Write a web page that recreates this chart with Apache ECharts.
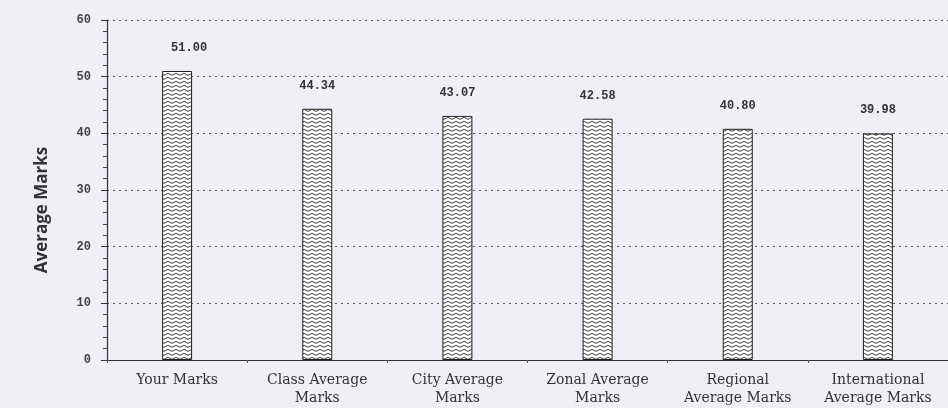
<!DOCTYPE html>
<html>
<head>
<meta charset="utf-8">
<style>html,body{margin:0;padding:0;background:#efeff6;}#c{width:948px;height:408px;}</style>
<script src="https://cdn.jsdelivr.net/npm/echarts@6/dist/echarts.min.js"></script>
</head>
<body>
<div id="c"></div>
<script>
var categories = ["Your Marks", "Class Average\nMarks", "City Average\nMarks", "Zonal Average\nMarks", "Regional\nAverage Marks", "International\nAverage Marks"];
var values = [51.00, 44.34, 43.07, 42.58, 40.80, 39.98];
var yTicks = [0, 10, 20, 30, 40, 50, 60];
var yTitle = "Average Marks";

function makePattern() {
  var c = document.createElement('canvas');
  c.width = 8; c.height = 4;
  var g = c.getContext('2d');
  g.fillStyle = '#ffffff';
  g.fillRect(0, 0, 8, 4);
  g.strokeStyle = '#3a3a3a';
  g.lineWidth = 1;
  g.beginPath();
  g.moveTo(0, 1.5);
  g.bezierCurveTo(1.5, 1.5, 2.5, 3.2, 4, 3.2);
  g.bezierCurveTo(5.5, 3.2, 6.5, 1.5, 8, 1.5);
  g.stroke();
  return c;
}
var pat = makePattern();

var chart = echarts.init(document.getElementById('c'), null, {renderer: 'canvas'});
var barData = values.map(function (v, i) {
  var item = {value: v};
  if (i === 0) item.label = {offset: [12, 0]};
  return item;
});
chart.setOption({
  backgroundColor: '#efeff6',
  animation: false,
  grid: {left: 107, right: -6, top: 20, bottom: 48, containLabel: false},
  graphic: [{
    type: 'text',
    x: 42, y: 210, rotation: Math.PI / 2,
    style: {text: yTitle, font: 'bold 17px "Open Sans", "Noto Sans", sans-serif', fill: '#333', align: 'center', verticalAlign: 'middle'}
  }],
  xAxis: {
    type: 'category',
    data: categories,
    axisLine: {lineStyle: {color: '#333', width: 1.2}},
    axisTick: {show: true, length: 3, lineStyle: {color: '#555'}},
    axisLabel: {color: '#333', fontFamily: '"DejaVu Serif", serif', fontSize: 14, lineHeight: 18, margin: 11, interval: 0}
  },
  yAxis: {
    type: 'value',
    min: yTicks[0], max: yTicks[yTicks.length - 1], interval: 10,
    axisLine: {show: true, lineStyle: {color: '#333', width: 1.2}},
    axisTick: {show: true, length: 6, lineStyle: {color: '#333'}},
    minorTick: {show: true, splitNumber: 5, length: 4, lineStyle: {color: '#444'}},
    axisLabel: {color: '#444', fontFamily: '"Liberation Mono", monospace', fontWeight: 'bold', fontSize: 12, margin: 16},
    splitLine: {show: true, lineStyle: {color: '#555', type: [2, 4], width: 1}}
  },
  series: [{
    type: 'bar',
    data: barData,
    barWidth: 30,
    itemStyle: {color: {image: pat, repeat: 'repeat'}, borderColor: '#222', borderWidth: 1},
    label: {
      show: true, position: 'top', distance: 17,
      formatter: function (p) { return p.value.toFixed(2); },
      color: '#333', fontFamily: '"Liberation Mono", monospace', fontWeight: 'bold', fontSize: 12
    }
  }]
});
</script>
</body>
</html>
